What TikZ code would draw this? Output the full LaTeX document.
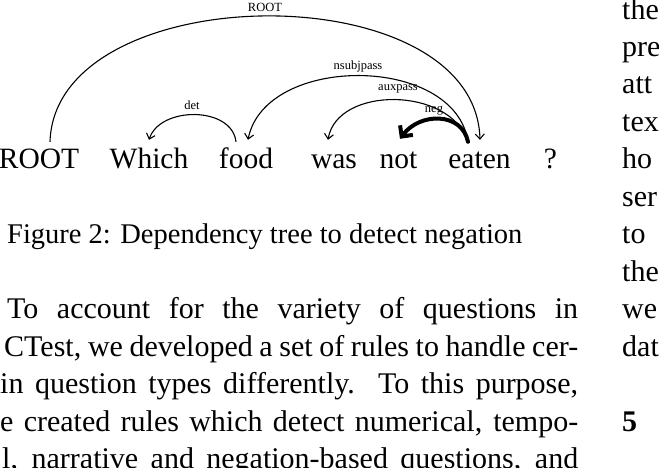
\documentclass[tikz,border=0pt]{standalone}
\usepackage{fontspec}
\setmainfont{Liberation Serif}
\usetikzlibrary{arrows.meta}
\begin{document}
\begin{tikzpicture}[x=1pt,y=-1pt,
  word/.style={anchor=base, inner sep=0pt, text height=20pt, text depth=6pt, font=\fontsize{29.5}{30}\selectfont},
  lbl/.style={inner sep=0pt, font=\fontsize{12.5}{13}\selectfont},
  dep/.style={line width=1.1pt, -{Straight Barb[length=5pt,width=9pt]}},
  negdep/.style={line width=4pt, line cap=round, -{Straight Barb[length=8pt,width=16pt]}},
  body/.style={anchor=base west, inner sep=0pt, font=\fontsize{30}{37.5}\selectfont},
]
\useasboundingbox (0,0) rectangle (659,467);
% words
\node[word] (root)  at (39,168)  {ROOT};
\node[word] (which) at (149,168) {Which};
\node[word] (food)  at (246,168) {food};
\node[word] (was)   at (334,168) {was};
\node[word] (not)   at (398.5,168) {not};
\node[word] (eaten) at (479.5,168) {eaten};
\node[word] (qm)    at (550.5,168) {?};
% arc ends
\coordinate (rootS)  at ([xshift=11pt,yshift=6pt]root.north);
\coordinate (eatenR) at ([xshift=0.5pt,yshift=8pt]eaten.north);
\coordinate (eatenS) at ([xshift=-11.5pt,yshift=6pt]eaten.north);
\coordinate (foodS)  at ([xshift=-10pt,yshift=6pt]food.north);
\coordinate (foodT)  at ([xshift=2pt,yshift=8pt]food.north);
\coordinate (whichT) at ([xshift=0pt,yshift=8pt]which.north);
\coordinate (wasT)   at ([xshift=-6pt,yshift=8pt]was.north);
\coordinate (notT)   at ([xshift=1.5pt,yshift=9pt]not.north);
% arcs
\draw[dep] (rootS) .. controls (55,-23) and (475,-28) .. (eatenR);
\draw[dep] (foodS) .. controls (232,106) and (160,106) .. (whichT);
\draw[dep] (eatenS) .. controls (455,54) and (265,54) .. (foodT);
\draw[dep] (eatenS) .. controls (450,86) and (337,86) .. (wasT);
\draw[negdep] (eatenS) .. controls (462,112) and (420,112) .. (notT);
% labels
\node[lbl] (lroot) at (265,7)   {ROOT};
\node[lbl] (ldet)  at (192,105) {det};
\node[lbl] (lnsub) at (358,66)  {nsubjpass};
\node[lbl] (laux)  at (398,89)  {auxpass};
\node[lbl] (lneg)  at (434,111) {neg};
% caption
\node[body,font=\fontsize{28.5}{37.5}\selectfont] (cap) at (7,243) {Figure 2: Dependency tree to detect negation};
% left column body
\node[body] (l1) at (7,318) {\makebox[571pt][s]{To account for the variety of questions in}};
\node[body] (l2) at (4,356) {\makebox[574pt][s]{CTest, we developed a set of rules to handle cer-}};
\node[body] (l3) at (0,393) {\makebox[578pt][s]{in question types differently.\ \ To this purpose,}};
\node[body] (l4) at (0,431) {\makebox[578pt][s]{e created rules which detect numerical, tempo-}};
\node[body] (l5) at (2,468) {\makebox[576pt][s]{l, narrative and negation-based questions, and}};
% right column
\node[body] (r1)  at (622,19)  {the};
\node[body] (r2)  at (622,56)  {pre};
\node[body] (r3)  at (622,93)  {att};
\node[body] (r4)  at (622,131) {tex};
\node[body] (r5)  at (622,168) {ho};
\node[body] (r6)  at (622,206) {ser};
\node[body] (r7)  at (622,243) {to};
\node[body] (r8)  at (622,281) {the};
\node[body] (r9)  at (622,318) {we};
\node[body] (r10) at (622,356) {dat};
\node[body,font=\fontsize{30}{37.5}\selectfont\bfseries] (r11) at (622,431) {5};
\end{tikzpicture}
\end{document}
